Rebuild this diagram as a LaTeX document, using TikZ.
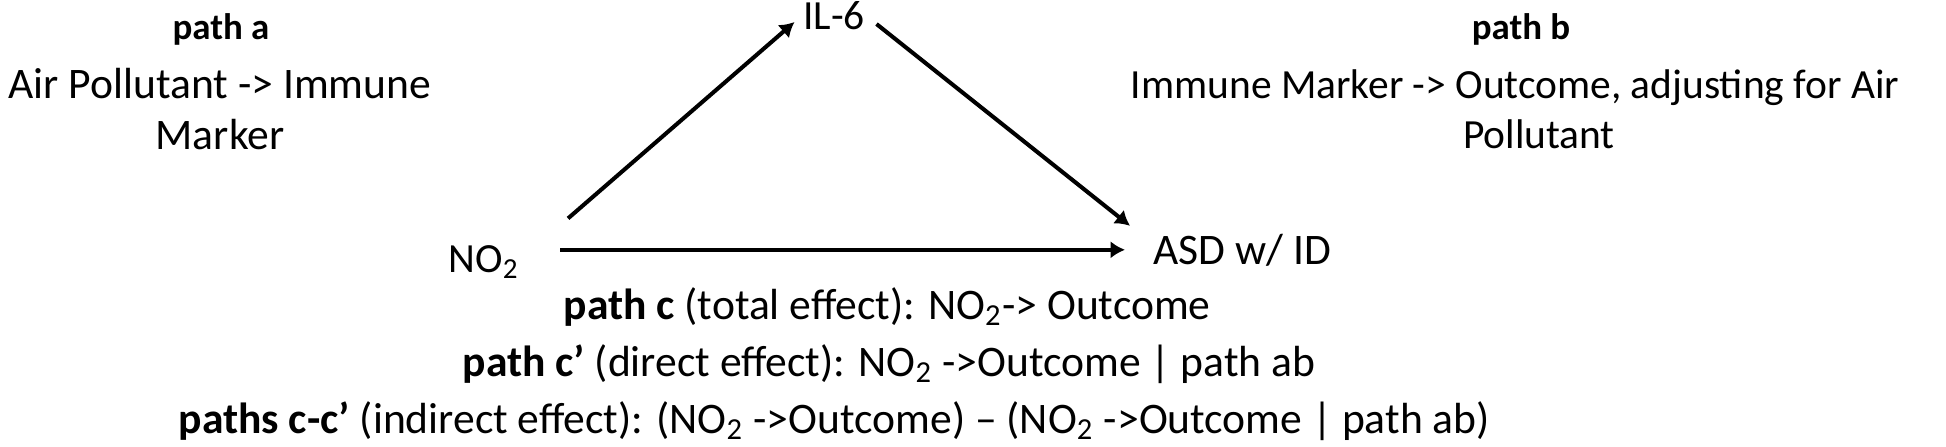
\documentclass[tikz,border=0pt]{standalone}
\usepackage{fontspec}
\setmainfont{Carlito}
\usepackage{tikz}
\usetikzlibrary{arrows.meta,positioning}

\begin{document}
\begin{tikzpicture}
[x=0.1mm,y=-0.1mm,
 lbl/.style={inner sep=0pt,font=\fontsize{12.4}{14.3}\selectfont},
 var/.style={inner sep=0pt,font=\fontsize{11.8}{14.3}\selectfont},
 hdr/.style={inner sep=0pt,font=\fontsize{10.5}{12}\selectfont\bfseries},
 note/.style={lbl,align=center},
 arr/.style={line width=1.15pt,-{Latex[length=1.45mm,width=1.75mm]}}]
\useasboundingbox (0,0) rectangle (1946,446);

% the three variables
\node[var,anchor=base] (no2) at (484,272) {NO\textsubscript{2}};
\node[var,anchor=base] (il6) at (834,29) {IL-6};
\node[lbl,anchor=base west] (asd) at (1153,264) {ASD w/ ID};

% path labels
\node[hdr,anchor=base] (patha) at (221,39) {path a};
\node[note,anchor=north] (texta) at (220,68) {Air Pollutant -> Immune\\Marker};
\node[hdr,anchor=base] (pathb) at (1521,39) {path b};
\node[note,anchor=north,font=\fontsize{11.8}{14.3}\selectfont] (textb) at (1515,69) {Immune Marker -> Outcome, adjusting for Air\\\hspace*{4.8mm}Pollutant};

\node[lbl,anchor=base west] (effc) at (563,319) {\textbf{path c} (total effect): NO\textsubscript{2}-> Outcome};
\node[lbl,anchor=base west] (effd) at (462,376) {\textbf{path c'} (direct effect): NO\textsubscript{2} ->Outcome | path ab};
\node[lbl,anchor=base west] (effi) at (178,433) {\textbf{paths c-c'} (indirect effect): (NO\textsubscript{2} ->Outcome) -- (NO\textsubscript{2} ->Outcome | path ab)};

\draw[arr] ([shift={(48,-26)}]no2.north east) -- ([shift={(-8,-8)}]il6.south west);
\draw[arr] ([shift={(11,-6)}]il6.south east) -- ([shift={(-23,-24)}]asd.west);
\draw[arr,shorten <=4mm,shorten >=2.8mm] (no2.east |- asd.west) -- (asd.west);
\end{tikzpicture}
\end{document}
